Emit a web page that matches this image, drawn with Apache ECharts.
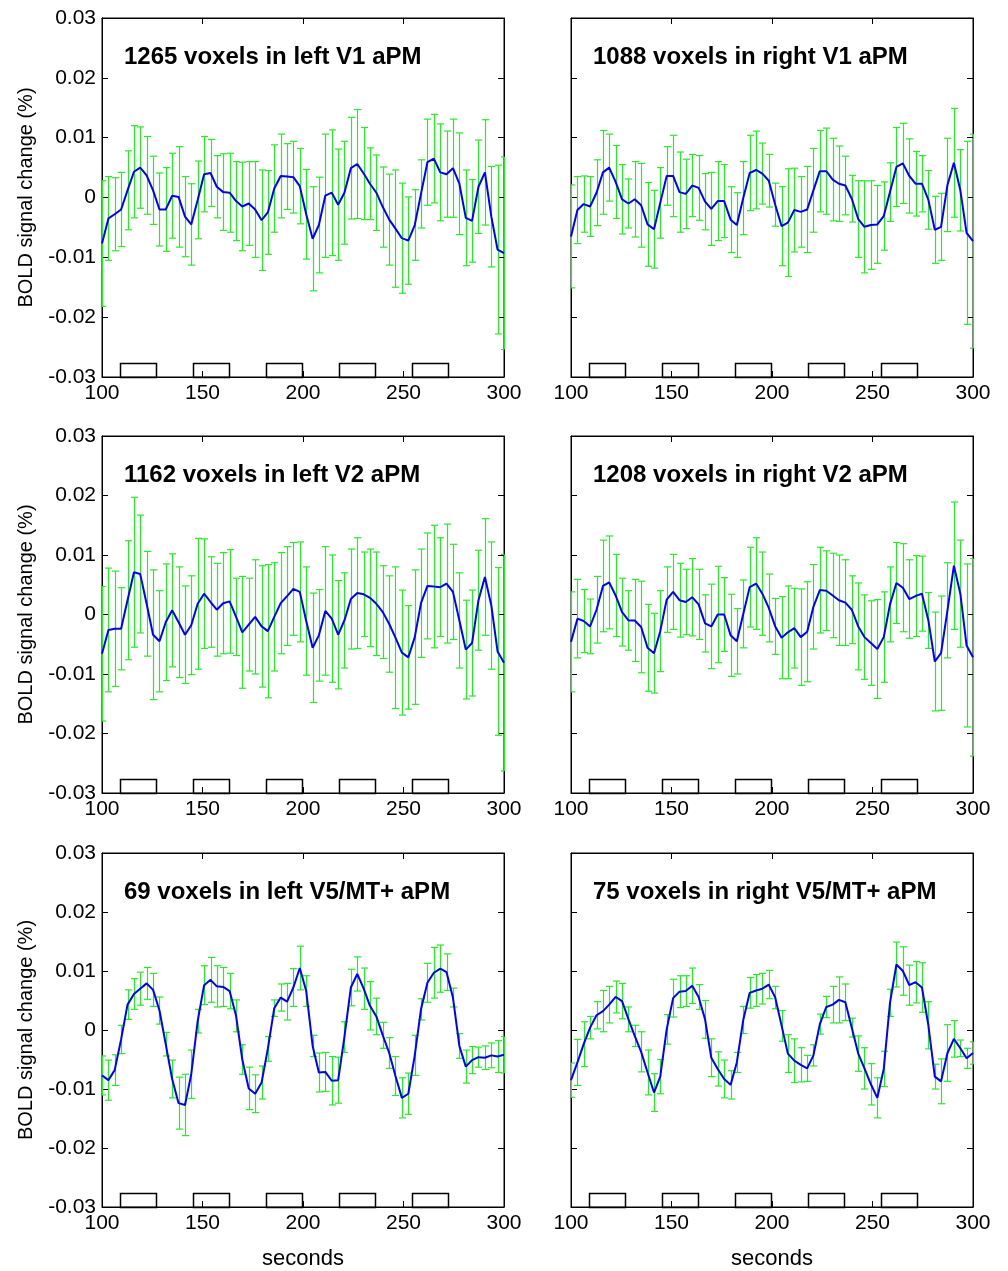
<!DOCTYPE html>
<html>
<head>
<meta charset="utf-8">
<script src="https://cdn.jsdelivr.net/npm/echarts@6/dist/echarts.min.js"></script>
<style>
html,body{margin:0;padding:0;background:#fff;}
#chart{width:1008px;height:1271px;}
</style>
</head>
<body>
<div id="chart"></div>
<script>
// sample times (seconds)
const times = [100,103.2,106.3,109.5,112.7,115.9,119,122.2,125.4,128.6,131.7,134.9,138.1,141.3,144.4,147.6,150.8,154,157.1,160.3,163.5,166.7,169.8,173,176.2,179.4,182.5,185.7,188.9,192.1,195.2,198.4,201.6,204.8,207.9,211.1,214.3,217.5,220.6,223.8,227,230.2,233.3,236.5,239.7,242.9,246,249.2,252.4,255.6,258.7,261.9,265.1,268.3,271.4,274.6,277.8,281,284.1,287.3,290.5,293.7,296.8,300];

const titles = ["1265 voxels in left V1 aPM","1088 voxels in right V1 aPM","1162 voxels in left V2 aPM","1208 voxels in right V2 aPM","69 voxels in left V5/MT+ aPM","75 voxels in right V5/MT+ aPM"];

const meanLeftV1 = [-0.0077,-0.0035,-0.0028,-0.0020,0.0012,0.0043,0.0050,0.0037,0.0012,-0.0020,-0.0020,0.0003,0.0001,-0.0032,-0.0045,-0.0004,0.0039,0.0041,0.0018,0.0009,0.0008,-0.0006,-0.0015,-0.0010,-0.0020,-0.0038,-0.0025,0.0015,0.0036,0.0035,0.0034,0.0019,-0.0028,-0.0069,-0.0046,0.0003,0.0008,-0.0012,0.0008,0.0049,0.0056,0.0040,0.0023,0.0008,-0.0016,-0.0037,-0.0052,-0.0068,-0.0072,-0.0046,0.0006,0.0059,0.0065,0.0042,0.0039,0.0049,0.0023,-0.0034,-0.0039,0.0018,0.0042,-0.0032,-0.0087,-0.0093];
const errLeftV1 = [0.0105,0.0070,0.0061,0.0062,0.0066,0.0077,0.0068,0.0065,0.0057,0.0061,0.0070,0.0071,0.0084,0.0067,0.0068,0.0065,0.0063,0.0056,0.0052,0.0064,0.0066,0.0066,0.0074,0.0070,0.0080,0.0084,0.0070,0.0073,0.0070,0.0055,0.0060,0.0063,0.0075,0.0087,0.0080,0.0103,0.0105,0.0093,0.0086,0.0085,0.0091,0.0077,0.0060,0.0063,0.0067,0.0076,0.0098,0.0092,0.0073,0.0059,0.0057,0.0072,0.0074,0.0081,0.0072,0.0082,0.0085,0.0080,0.0069,0.0078,0.0088,0.0084,0.0141,0.0161];

const meanRightV1 = [-0.0065,-0.0021,-0.0011,-0.0015,0.0008,0.0042,0.0050,0.0026,-0.0003,-0.0010,-0.0003,-0.0013,-0.0045,-0.0053,-0.0009,0.0036,0.0036,0.0009,0.0006,0.0020,0.0016,-0.0007,-0.0019,-0.0006,-0.0006,-0.0037,-0.0046,-0.0001,0.0041,0.0046,0.0040,0.0028,-0.0012,-0.0048,-0.0042,-0.0021,-0.0024,-0.0020,0.0012,0.0044,0.0044,0.0030,0.0023,0.0020,-0.0002,-0.0036,-0.0049,-0.0046,-0.0045,-0.0031,0.0009,0.0051,0.0057,0.0036,0.0023,0.0023,-0.0004,-0.0054,-0.0049,0.0021,0.0058,0.0012,-0.0059,-0.0073];
const errRightV1 = [0.0086,0.0056,0.0047,0.0050,0.0055,0.0070,0.0056,0.0061,0.0058,0.0041,0.0063,0.0070,0.0070,0.0065,0.0059,0.0049,0.0068,0.0067,0.0058,0.0052,0.0054,0.0047,0.0061,0.0066,0.0061,0.0055,0.0054,0.0061,0.0063,0.0065,0.0051,0.0044,0.0036,0.0066,0.0090,0.0070,0.0059,0.0072,0.0070,0.0068,0.0072,0.0069,0.0063,0.0049,0.0039,0.0064,0.0077,0.0074,0.0065,0.0057,0.0049,0.0066,0.0067,0.0062,0.0054,0.0047,0.0049,0.0056,0.0056,0.0078,0.0091,0.0068,0.0153,0.0179];

const meanLeftV2 = [-0.0066,-0.0026,-0.0024,-0.0024,0.0024,0.0071,0.0068,0.0018,-0.0034,-0.0045,-0.0013,0.0007,-0.0013,-0.0034,-0.0018,0.0018,0.0035,0.0021,0.0008,0.0019,0.0022,-0.0004,-0.0030,-0.0017,-0.0004,-0.0020,-0.0028,-0.0004,0.0019,0.0031,0.0043,0.0038,-0.0011,-0.0056,-0.0035,0.0006,-0.0007,-0.0034,-0.0010,0.0026,0.0036,0.0034,0.0028,0.0018,0.0004,-0.0016,-0.0039,-0.0064,-0.0072,-0.0038,0.0019,0.0048,0.0047,0.0046,0.0052,0.0038,-0.0010,-0.0059,-0.0048,0.0024,0.0063,0.0015,-0.0062,-0.0081];
const errLeftV2 = [0.0113,0.0104,0.0097,0.0069,0.0100,0.0126,0.0099,0.0088,0.0109,0.0085,0.0098,0.0095,0.0093,0.0082,0.0083,0.0110,0.0092,0.0076,0.0078,0.0085,0.0087,0.0065,0.0094,0.0078,0.0096,0.0102,0.0112,0.0091,0.0085,0.0083,0.0078,0.0084,0.0091,0.0092,0.0077,0.0108,0.0107,0.0091,0.0080,0.0084,0.0093,0.0071,0.0082,0.0087,0.0078,0.0081,0.0119,0.0105,0.0087,0.0113,0.0091,0.0089,0.0103,0.0083,0.0100,0.0080,0.0080,0.0083,0.0089,0.0084,0.0098,0.0107,0.0141,0.0182];

const meanRightV2 = [-0.0046,-0.0007,-0.0011,-0.0020,0.0008,0.0048,0.0054,0.0032,0.0004,-0.0010,-0.0010,-0.0021,-0.0056,-0.0065,-0.0028,0.0025,0.0038,0.0024,0.0021,0.0029,0.0017,-0.0015,-0.0020,0.0000,0.0000,-0.0035,-0.0045,0.0001,0.0046,0.0052,0.0035,0.0011,-0.0020,-0.0039,-0.0030,-0.0023,-0.0038,-0.0029,0.0013,0.0041,0.0040,0.0032,0.0024,0.0020,0.0008,-0.0020,-0.0038,-0.0048,-0.0058,-0.0038,0.0017,0.0053,0.0045,0.0026,0.0031,0.0035,-0.0010,-0.0079,-0.0065,0.0007,0.0082,0.0035,-0.0052,-0.0072];
const errRightV2 = [0.0084,0.0066,0.0053,0.0046,0.0056,0.0077,0.0078,0.0069,0.0057,0.0050,0.0069,0.0077,0.0073,0.0067,0.0068,0.0055,0.0063,0.0062,0.0055,0.0065,0.0059,0.0048,0.0071,0.0081,0.0062,0.0069,0.0055,0.0057,0.0067,0.0077,0.0070,0.0057,0.0047,0.0069,0.0078,0.0067,0.0081,0.0084,0.0071,0.0072,0.0067,0.0071,0.0076,0.0072,0.0057,0.0073,0.0071,0.0071,0.0083,0.0076,0.0063,0.0068,0.0074,0.0066,0.0068,0.0063,0.0047,0.0083,0.0096,0.0080,0.0107,0.0090,0.0137,0.0166];

const meanLeftV5 = [-0.0077,-0.0085,-0.0068,-0.0016,0.0043,0.0061,0.0070,0.0079,0.0068,0.0033,-0.0024,-0.0083,-0.0124,-0.0127,-0.0075,0.0015,0.0076,0.0085,0.0074,0.0073,0.0066,0.0024,-0.0050,-0.0099,-0.0108,-0.0089,-0.0032,0.0037,0.0055,0.0048,0.0072,0.0105,0.0066,-0.0027,-0.0072,-0.0071,-0.0086,-0.0085,-0.0012,0.0072,0.0095,0.0070,0.0041,0.0023,-0.0009,-0.0039,-0.0078,-0.0115,-0.0108,-0.0043,0.0035,0.0080,0.0097,0.0104,0.0098,0.0055,-0.0027,-0.0062,-0.0051,-0.0046,-0.0047,-0.0043,-0.0045,-0.0042];
const errLeftV5 = [0.0033,0.0034,0.0026,0.0024,0.0025,0.0026,0.0028,0.0027,0.0028,0.0023,0.0020,0.0032,0.0044,0.0052,0.0041,0.0020,0.0033,0.0038,0.0035,0.0033,0.0030,0.0027,0.0025,0.0036,0.0032,0.0028,0.0021,0.0014,0.0023,0.0031,0.0032,0.0037,0.0026,0.0018,0.0033,0.0033,0.0041,0.0039,0.0026,0.0031,0.0029,0.0035,0.0041,0.0031,0.0022,0.0026,0.0033,0.0034,0.0035,0.0034,0.0018,0.0033,0.0043,0.0040,0.0031,0.0016,0.0021,0.0028,0.0023,0.0017,0.0020,0.0021,0.0027,0.0031];

const meanRightV5 = [-0.0085,-0.0055,-0.0024,0.0004,0.0025,0.0032,0.0043,0.0056,0.0049,0.0018,-0.0010,-0.0037,-0.0072,-0.0106,-0.0079,0.0001,0.0054,0.0065,0.0066,0.0075,0.0056,0.0018,-0.0047,-0.0066,-0.0083,-0.0093,-0.0055,0.0017,0.0063,0.0067,0.0070,0.0077,0.0055,0.0007,-0.0040,-0.0052,-0.0059,-0.0065,-0.0043,0.0010,0.0039,0.0043,0.0051,0.0047,0.0004,-0.0040,-0.0065,-0.0092,-0.0115,-0.0066,0.0046,0.0111,0.0100,0.0076,0.0081,0.0072,0.0008,-0.0079,-0.0087,-0.0039,-0.0015,-0.0031,-0.0048,-0.0039];
const errRightV5 = [0.0029,0.0039,0.0038,0.0019,0.0023,0.0035,0.0031,0.0027,0.0030,0.0021,0.0018,0.0034,0.0038,0.0032,0.0029,0.0025,0.0032,0.0027,0.0026,0.0030,0.0021,0.0032,0.0032,0.0029,0.0032,0.0024,0.0017,0.0023,0.0026,0.0027,0.0026,0.0024,0.0019,0.0026,0.0032,0.0037,0.0029,0.0022,0.0018,0.0017,0.0018,0.0031,0.0039,0.0031,0.0016,0.0030,0.0035,0.0035,0.0034,0.0030,0.0023,0.0038,0.0041,0.0034,0.0035,0.0042,0.0040,0.0021,0.0038,0.0048,0.0031,0.0014,0.0017,0.0019];

// stimulus blocks (seconds)
const stimOn  = [109, 145.3, 181.7, 218, 254.3];
const stimOff = [127, 163.3, 199.7, 236, 272.3];
const stimBottom = -0.03, stimTop = -0.0277;

const xTicks = [100, 150, 200, 250, 300];
const yTicks = [-0.03, -0.02, -0.01, 0, 0.01, 0.02, 0.03];

const means = [meanLeftV1, meanRightV1, meanLeftV2, meanRightV2, meanLeftV5, meanRightV5];
const errs  = [errLeftV1, errRightV1, errLeftV2, errRightV2, errLeftV5, errRightV5];

const FONT = '"Liberation Sans", Arial, Helvetica, sans-serif';
const colLeft = [102, 571];
const rowTop = [18, 436, 853];
const rowH = [359, 357, 355];
const W = 402;

const grid = [], xAxis = [], yAxis = [], series = [], title = [];
for (let p = 0; p < 6; p++) {
  const col = p % 2, row = Math.floor(p / 2);
  grid.push({left: colLeft[col], top: rowTop[row], width: W, height: rowH[row],
    show: true, borderColor: '#000', borderWidth: 1, backgroundColor: '#fff'});
  const tickStyle = {show: true, inside: true, length: 6, lineStyle: {color: '#000', width: 1}};
  const lineStyle = {show: true, onZero: false, lineStyle: {color: '#000', width: 1}};
  xAxis.push({gridIndex: p, type: 'value', min: xTicks[0], max: xTicks[xTicks.length-1], interval: 50,
    position: 'bottom', axisLine: lineStyle,
    axisTick: tickStyle, splitLine: {show: false},
    axisLabel: {show: true, color: '#000', fontSize: 21, fontFamily: FONT, margin: 6},
    name: row === 2 ? 'seconds' : '', nameLocation: 'middle', nameGap: 41,
    nameTextStyle: {color: '#000', fontSize: 22, fontFamily: FONT}});
  xAxis.push({gridIndex: p, type: 'value', min: 100, max: 300, interval: 50, position: 'top',
    axisLine: lineStyle, axisTick: tickStyle,
    splitLine: {show: false}, axisLabel: {show: false}});
  yAxis.push({gridIndex: p, type: 'value', min: yTicks[0], max: yTicks[yTicks.length-1], interval: 0.01,
    position: 'left', axisLine: lineStyle,
    axisTick: tickStyle, splitLine: {show: false},
    axisLabel: {show: col === 0, color: '#000', fontSize: 21, fontFamily: FONT, margin: 6,
      formatter: v => { const r = Math.round(v * 100) / 100; return r === 0 ? '0' : r.toFixed(2); }},
    name: col === 0 ? 'BOLD signal change (%)' : '', nameLocation: 'middle', nameGap: 66, nameRotate: 90,
    nameTextStyle: {color: '#000', fontSize: 20, fontFamily: FONT}});
  yAxis.push({gridIndex: p, type: 'value', min: -0.03, max: 0.03, interval: 0.01, position: 'right',
    axisLine: lineStyle, axisTick: tickStyle,
    splitLine: {show: false}, axisLabel: {show: false}});

  title.push({text: titles[p], left: colLeft[col] + 17, top: rowTop[row] + 22,
    textStyle: {fontSize: 24, fontWeight: 'bold', color: '#000', fontFamily: FONT}});

  const m = means[p], e = errs[p];
  // error bars
  series.push({
    type: 'custom', xAxisIndex: 2*p, yAxisIndex: 2*p, z: 2, silent: true,
    data: times.map((t, i) => [t, m[i] - e[i], m[i] + e[i]]),
    renderItem: function (params, api) {
      const x = api.value(0), lo = api.value(1), hi = api.value(2);
      const a = api.coord([x, lo]), b = api.coord([x, hi]);
      const cs = params.coordSys;
      const px = Math.round(a[0]) + 0.5;
      const xl = Math.max(px - 3.5, cs.x), xr = Math.min(px + 3.5, cs.x + cs.width);
      const st = {stroke: '#22ee22', lineWidth: 1.2, fill: null};
      return {type: 'group', children: [
        {type: 'line', shape: {x1: px, y1: a[1], x2: px, y2: b[1]}, style: st},
        {type: 'line', shape: {x1: xl, y1: a[1], x2: xr, y2: a[1]}, style: st},
        {type: 'line', shape: {x1: xl, y1: b[1], x2: xr, y2: b[1]}, style: st}
      ]};
    }
  });
  // mean line
  series.push({
    type: 'line', xAxisIndex: 2*p, yAxisIndex: 2*p, z: 3, silent: true,
    data: times.map((t, i) => [t, m[i]]), symbol: 'none', smooth: false,
    lineStyle: {color: '#0000ff', width: 2}, itemStyle: {color: '#0000ff'}
  });
  // stimulus boxes
  series.push({
    type: 'custom', xAxisIndex: 2*p, yAxisIndex: 2*p, z: 4, silent: true,
    data: stimOn.map((s, i) => [s, stimOff[i], stimBottom, stimTop]),
    renderItem: function (params, api) {
      const a = api.coord([api.value(0), api.value(3)]);
      const b = api.coord([api.value(1), api.value(2)]);
      return {type: 'rect', shape: {x: Math.round(a[0]) + 0.5, y: Math.round(a[1]) + 0.5,
        width: Math.round(b[0] - a[0]), height: Math.round(b[1] - a[1])},
        style: {stroke: '#000', lineWidth: 1.5, fill: null}};
    }
  });
}

const chart = echarts.init(document.getElementById('chart'), null, {renderer: 'canvas'});
chart.setOption({animation: false, backgroundColor: '#fff', title, grid, xAxis, yAxis, series});
</script>
</body>
</html>
